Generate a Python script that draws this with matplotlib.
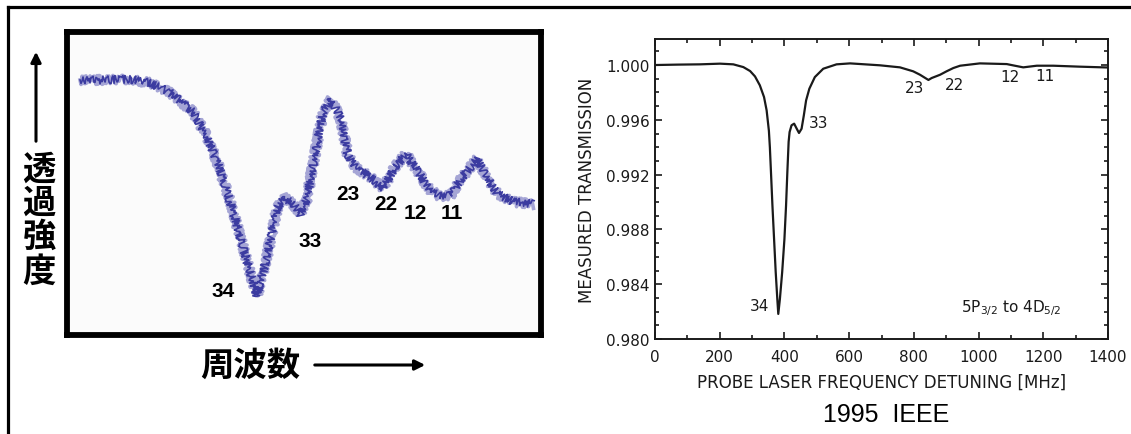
import matplotlib
matplotlib.use("Agg")
import matplotlib.pyplot as plt
from matplotlib.lines import Line2D
from matplotlib.patches import FancyArrowPatch
from matplotlib.ticker import MultipleLocator

# ---------------- data ----------------
# Left panel: measured spectrum (arbitrary units)
left_freq = [2.85, 7.07, 13.4, 17.6, 21.8, 26.7, 29.6, 31.8, 33.9, 36.0, 38.1, 40.2,
             42.3, 44.4, 45.7, 47.8, 49.3, 50.7, 52.6, 54.1, 55.8, 57.9, 59.4, 60.9,
             64.0, 66.8, 69.3, 71.6, 74.2, 76.5, 78.6, 80.9, 83.2, 86.6, 88.9, 91.0,
             94.4, 98.6]
left_trans = [84.0, 84.0, 84.3, 83.0, 80.0, 73.4, 65.5, 56.9, 47.0, 35.8, 23.9, 12.7,
              25.9, 41.4, 45.4, 43.1, 39.8, 44.7, 61.2, 73.4, 77.7, 71.1, 58.9, 55.3,
              52.0, 48.3, 55.3, 59.6, 53.6, 48.0, 45.7, 45.7, 51.3, 57.9, 51.3, 46.4,
              43.7, 43.1]
left_labels = ["34", "33", "23", "22", "12", "11"]
left_label_x = [33.0, 51.4, 59.4, 67.4, 73.5, 81.3]
left_label_y = [14.4, 30.9, 46.4, 43.1, 40.4, 40.4]

# Right panel: IEEE 1995 spectrum (MHz, transmission)
right_freq = [0, 70, 139, 201, 242, 273, 294, 309, 324, 337, 345, 352, 355, 358,
              363, 368, 373, 378, 381, 386, 393, 400, 405, 409, 413, 416, 422, 430,
              438, 445, 453, 460, 467, 477, 494, 520, 561, 603, 695, 757, 798, 819,
              845, 855, 881, 901, 922, 943, 1004, 1087, 1112, 1138, 1180, 1231, 1313,
              1385, 1400]
right_trans = [1.0000, 1.00003, 1.00005, 1.0001, 1.00005, 0.99985, 0.99956, 0.99917,
               0.99852, 0.99766, 0.99669, 0.9952, 0.9940, 0.9924, 0.9897, 0.9873,
               0.9849, 0.98292, 0.98183, 0.98292, 0.98487, 0.98730, 0.98973, 0.99217,
               0.9944, 0.99511, 0.9956, 0.99572, 0.99535, 0.99504, 0.99535, 0.99633,
               0.99742, 0.99827, 0.99912, 0.99973, 1.00005, 1.00012, 0.99998, 0.99983,
               0.99954, 0.99929, 0.99891, 0.99905, 0.99929, 0.99954, 0.99978, 0.99995,
               1.00012, 1.00007, 0.99995, 0.99983, 0.99995, 0.99995, 0.99988, 0.99983,
               0.99982]
right_labels = ["34", "33", "23", "22", "12", "11"]
right_label_x = [324, 507, 803, 927, 1097, 1205]
right_label_y = [0.98243, 0.99577, 0.99837, 0.99861, 0.99919, 0.99926]
right_yticks = [0.980, 0.984, 0.988, 0.992, 0.996, 1.000]
right_xticks = [0, 200, 400, 600, 800, 1000, 1200, 1400]

W, H = 1131, 435
fig = plt.figure(figsize=(W / 100, H / 100), dpi=100)
fig.patch.set_facecolor("white")

def fx(px):
    return px / W

def fy(py):
    return 1 - py / H

# outer frame lines
fig.add_artist(Line2D([fx(7.5), fx(W)], [fy(7.5), fy(7.5)], color="black", lw=2.3,
                      transform=fig.transFigure))
fig.add_artist(Line2D([fx(7.5), fx(7.5)], [fy(7.5), fy(H)], color="black", lw=2.3,
                      transform=fig.transFigure))

# ---------------- left panel ----------------
axL = fig.add_axes([fx(66.5), fy(335.5), fx(540.5 - 66.5), (335.5 - 32.5) / H])
axL.set_facecolor("#fbfbfb")
for s in axL.spines.values():
    s.set_linewidth(4.2)
    s.set_color("black")
axL.set_xticks([])
axL.set_yticks([])
axL.set_xlim(0, 100)
axL.set_ylim(0, 100)
halo, = axL.plot(left_freq, left_trans, color="#9090cc", lw=2.6, alpha=0.8)
halo.set_sketch_params(scale=4.5, length=0.5, randomness=8)
core, = axL.plot(left_freq, left_trans, color="#3b3ba0", lw=1.2)
core.set_sketch_params(scale=4.0, length=0.6, randomness=10)
for t, x, y in zip(left_labels, left_label_x, left_label_y):
    axL.text(x, y, t, fontsize=15, fontweight="bold", family="Liberation Sans",
             ha="center", va="center", color="black")

# Japanese axis labels
jp = ["Noto Sans CJK JP", "DejaVu Sans"]
for ch, py in zip("透過強度", [170, 203, 237, 272]):
    fig.text(fx(39), fy(py), ch, fontsize=24, fontweight="bold", family=jp,
             ha="center", va="center")
fig.text(fx(250), fy(366), "周波数", fontsize=24, fontweight="bold", family=jp,
         ha="center", va="center")
fig.add_artist(FancyArrowPatch(
    (fx(36), fy(145)), (fx(36), fy(50)), transform=fig.transFigure,
    arrowstyle="-|>,head_length=6,head_width=3", color="black", lw=2.2))
fig.add_artist(FancyArrowPatch(
    (fx(312), fy(366)), (fx(428), fy(366)), transform=fig.transFigure,
    arrowstyle="-|>,head_length=6,head_width=3", color="black", lw=2.2))

# ---------------- right panel ----------------
ink = "#1a1a1a"
axR = fig.add_axes([fx(655), fy(340), fx(1108 - 655), (340 - 40) / H])
axR.plot(right_freq, right_trans, color=ink, lw=1.6, solid_joinstyle="round")
axR.set_xlim(0, 1400)
axR.set_ylim(0.980, 1.0019)
axR.set_xticks(right_xticks)
axR.set_yticks(right_yticks)
axR.set_yticklabels([f"{v:.3f}" for v in right_yticks])
axR.xaxis.set_minor_locator(MultipleLocator(100))
axR.yaxis.set_minor_locator(MultipleLocator(0.001))
axR.tick_params(which="both", direction="in", top=True, right=True, colors=ink,
                labelsize=11, width=1.2)
axR.tick_params(which="major", length=5)
axR.tick_params(which="minor", length=3)
axR.tick_params(axis="x", pad=7)
axR.tick_params(axis="y", pad=4)
for lab in axR.get_xticklabels() + axR.get_yticklabels():
    lab.set_family("DejaVu Sans")
for s in axR.spines.values():
    s.set_linewidth(1.4)
    s.set_color(ink)
axR.set_xlabel("PROBE LASER FREQUENCY DETUNING [MHz]", fontsize=12, color=ink,
               family="DejaVu Sans", va="center")
axR.xaxis.set_label_coords(0.5, -0.143)
axR.set_ylabel("MEASURED TRANSMISSION", fontsize=12, color=ink,
               family="DejaVu Sans", va="center")
axR.yaxis.set_label_coords(-0.150, 0.5)
for t, x, y in zip(right_labels, right_label_x, right_label_y):
    axR.text(x, y, t, fontsize=11, family="DejaVu Sans", ha="center",
             va="center", color=ink)
axR.text(1102, 0.98234, r"5P$_{3/2}$ to 4D$_{5/2}$", fontsize=11,
         family="DejaVu Sans", ha="center", va="center", color=ink)

fig.text(fx(886), fy(415), "1995  IEEE", fontsize=18, family="Liberation Sans",
         ha="center", va="center", color="black")

fig.savefig("out.png", dpi=100)
